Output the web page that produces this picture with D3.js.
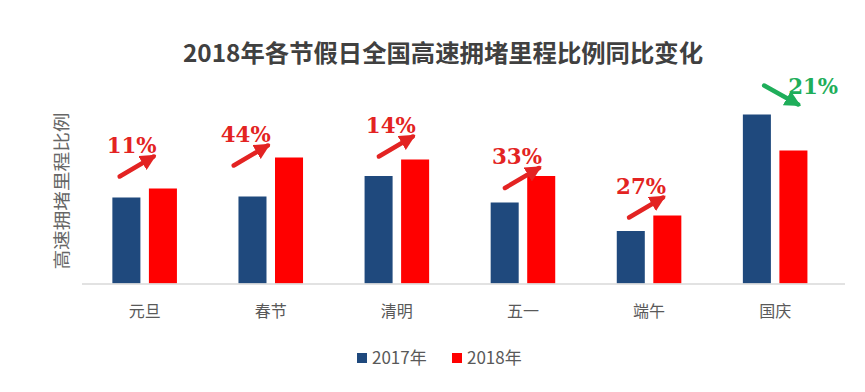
<!DOCTYPE html>
<html><head><meta charset="utf-8">
<script src="https://cdn.jsdelivr.net/npm/d3@7"></script>
<style>body{margin:0;background:#fff;}svg{display:block;font-family:"Noto Sans CJK SC","Noto Sans",sans-serif;}</style>
</head><body><svg id="c" width="865" height="392"></svg>
<script>
const categories = ["元旦","春节","清明","五一","端午","国庆"];
const seriesNames = ["2017年","2018年"];
const values2017 = [8.6, 8.7, 10.75, 8.1, 5.25, 16.9];
const values2018 = [9.5, 12.6, 12.4, 10.75, 6.8, 13.3];
const changeLabels = ["11%","44%","14%","33%","27%","21%"];
const changeDir = ["up","up","up","up","up","down"];
// annotation layout offsets (px) relative to group centre and taller bar top
const annLayout = [
  {dx:-13, dy:-36}, {dx:-25, dy:-16}, {dx:-6, dy:-27},
  {dx:-6, dy:-12}, {dx:-8, dy:-22}, {dx:38, dy:-21}
];

const svg = d3.select("#c");
const colors = {"2017年":"#1F497D","2018年":"#FF0000"};
const upColor = "#E32322", downColor = "#1FAE5A";

const x0 = d3.scaleBand().domain(categories).range([81.6, 838.2]).paddingInner(0.488).paddingOuter(0.244);
const x1 = d3.scaleBand().domain(seriesNames).range([0, x0.bandwidth()]).paddingInner(0.233);
const y = d3.scaleLinear().domain([0, 18]).range([283.5, 103.5]);

// title
svg.append("text").attr("x", 443).attr("y", 62).attr("text-anchor","middle")
  .attr("font-size", 24).attr("font-weight","bold").attr("fill","#404040")
  .attr("textLength", 520).attr("lengthAdjust","spacingAndGlyphs")
  .text("2018年各节假日全国高速拥堵里程比例同比变化");

// y label
svg.append("text").attr("transform","translate(68,191) rotate(-90)")
  .attr("text-anchor","middle").attr("font-size",17).attr("fill","#666")
  .attr("textLength",157).attr("lengthAdjust","spacingAndGlyphs")
  .text("高速拥堵里程比例");

const rows = categories.map((c,i)=>({cat:c, vals:[{s:"2017年",v:values2017[i]},{s:"2018年",v:values2018[i]}]}));

const g = svg.append("g").selectAll("g").data(rows).join("g")
  .attr("transform", d=>`translate(${x0(d.cat)},0)`);
g.selectAll("rect").data(d=>d.vals).join("rect")
  .attr("x", d=>x1(d.s)).attr("width", x1.bandwidth())
  .attr("y", d=>y(d.v)).attr("height", d=>y(0)-y(d.v))
  .attr("fill", d=>colors[d.s]);

// baseline axis
const xAxis = d3.axisBottom(x0).tickSize(0).tickPadding(22);
const ax = svg.append("g").attr("transform",`translate(0,${y(0)})`).call(xAxis);
ax.select(".domain").remove();
ax.selectAll("text").attr("font-size",16).attr("fill","#595959")
  .attr("font-family",'"Noto Sans CJK SC",sans-serif');
svg.append("line").attr("x1",82).attr("x2",845).attr("y1",y(0)+0.5).attr("y2",y(0)+0.5)
  .attr("stroke","#d9d9d9").attr("stroke-width",1.5);

// arrow markers
const defs = svg.append("defs");
[["up",upColor],["down",downColor]].forEach(([id,col])=>{
  defs.append("marker").attr("id","m"+id).attr("viewBox","0 0 10 10")
    .attr("refX",8).attr("refY",5).attr("markerWidth",3.6).attr("markerHeight",3.6)
    .attr("orient","auto").attr("markerUnits","strokeWidth")
    .append("path").attr("d","M0,0 L10,5 L0,10 Z").attr("fill",col);
});

// annotations
categories.forEach((c,i)=>{
  const cx = x0(c) + x0.bandwidth()/2;
  const top = y(Math.max(values2017[i], values2018[i]));
  const lx = cx + annLayout[i].dx, ly = top + annLayout[i].dy;
  const up = changeDir[i] === "up";
  const col = up ? upColor : downColor;
  svg.append("text").attr("x",lx).attr("y",ly).attr("text-anchor","middle")
    .attr("font-size",23).attr("font-weight","bold").attr("fill",col)
    .attr("font-family",'"DejaVu Serif","Liberation Serif",serif')
    .attr("textLength",50).attr("lengthAdjust","spacingAndGlyphs")
    .text(changeLabels[i]);
  let x1p,y1p,x2p,y2p;
  if (up) { x1p = lx-12; y1p = ly+24; x2p = lx+22; y2p = ly+4; }
  else { x1p = lx-49; y1p = ly-8; x2p = lx-15; y2p = ly+11; }
  svg.append("line").attr("x1",x1p).attr("y1",y1p).attr("x2",x2p).attr("y2",y2p)
    .attr("stroke",col).attr("stroke-width",4.5).attr("stroke-linecap","round")
    .attr("marker-end",`url(#m${changeDir[i]})`);
});

// legend
const leg = svg.append("g").attr("transform","translate(357,353)");
seriesNames.forEach((s,i)=>{
  const lg = leg.append("g").attr("transform",`translate(${i*95},0)`);
  lg.append("rect").attr("width",10).attr("height",10).attr("fill",colors[s]);
  lg.append("text").attr("x",15).attr("y",11).attr("font-size",17).attr("fill","#595959").text(s);
});
</script></body></html>
